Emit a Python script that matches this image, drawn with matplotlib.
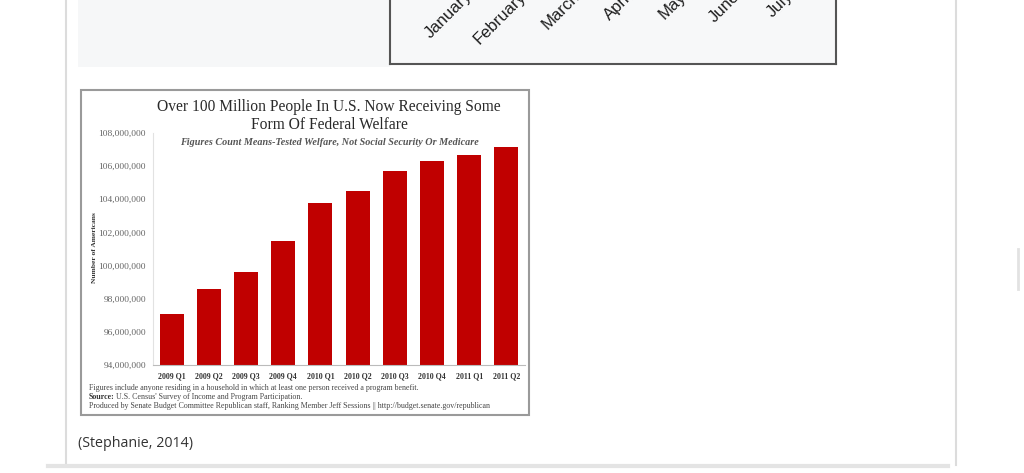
import matplotlib
matplotlib.use("Agg")
import matplotlib.pyplot as plt
from matplotlib.patches import Rectangle
from matplotlib.ticker import FuncFormatter

# chart data
quarters = ["2009 Q1", "2009 Q2", "2009 Q3", "2009 Q4", "2010 Q1",
            "2010 Q2", "2010 Q3", "2010 Q4", "2011 Q1", "2011 Q2"]
recipients = [97.1e6, 98.6e6, 99.6e6, 101.5e6, 103.75e6,
              104.5e6, 105.7e6, 106.3e6, 106.7e6, 107.15e6]
y_ticks = [94e6, 96e6, 98e6, 100e6, 102e6, 104e6, 106e6, 108e6]
months = ["January", "February", "March", "April", "May", "June", "July"]

W, H = 1024, 473
fig = plt.figure(figsize=(W / 100, H / 100), dpi=100)
fig.patch.set_facecolor("white")

# page background in pixel coords
bg = fig.add_axes([0, 0, 1, 1])
bg.set_xlim(0, W)
bg.set_ylim(H, 0)
bg.axis("off")
bg.add_patch(Rectangle((78, -5), 312, 72, facecolor="#f6f7f8", edgecolor="none"))
bg.plot([66, 66], [0, 465], color="#dcdcdc", lw=1.5)
bg.plot([956, 956], [0, 465], color="#dcdcdc", lw=1.5)
bg.plot([48, 948], [466, 466], color="#e4e4e4", lw=3)
bg.plot([1018, 1018], [249, 289], color="#e2e2e2", lw=2)
bg.text(78, 443, "(Stephanie, 2014)", fontsize=10.3, family="Open Sans",
        color="#333333", va="center", ha="left")

# chart image frame
bg.add_patch(Rectangle((81, 90), 448, 325, facecolor="white",
                       edgecolor="#9a9a9a", lw=1.5))
serif = "Liberation Serif"
bg.text(329, 107, "Over 100 Million People In U.S. Now Receiving Some",
        family=serif, fontsize=11.2, color="#2a2a2a", ha="center", va="center")
bg.text(329, 125, "Form Of Federal Welfare", family=serif, fontsize=11.2,
        color="#2a2a2a", ha="center", va="center")
bg.text(329, 142, "Figures Count Means-Tested Welfare, Not Social Security Or Medicare",
        family=serif, fontsize=7.3, style="italic", weight="bold",
        color="#555555", ha="center", va="center", zorder=5)
foot = 5.65
bg.text(89, 388, "Figures include anyone residing in a household in which at least one person received a program benefit.",
        family=serif, fontsize=foot, color="#444444", ha="left", va="center")
bg.text(89, 397, "Source:", family=serif, fontsize=foot, weight="bold",
        color="#333333", ha="left", va="center")
bg.text(116, 397, "U.S. Census' Survey of Income and Program Participation.",
        family=serif, fontsize=foot, color="#444444", ha="left", va="center")
bg.text(89, 406, "Produced by Senate Budget Committee Republican staff, Ranking Member Jeff Sessions || http://budget.senate.gov/republican",
        family=serif, fontsize=foot, color="#444444", ha="left", va="center")

# top box with month labels (cut by the top edge)
box = fig.add_axes([390 / W, 1 - 64 / H, 446 / W, 0.2])
box.set_facecolor("#f7f8f9")
box.set_xlim(-1.5, 6.85)
box.set_ylim(0, 1)
box.set_xticks([])
box.set_yticks([])
for s in box.spines.values():
    s.set_color("#555555")
    s.set_linewidth(1.5)
for i, m in enumerate(months):
    box.text(i, 0.74, m, rotation=45, rotation_mode="anchor", ha="right",
             va="center", fontsize=12, family="Liberation Sans",
             color="#1e1e1e")

# the bar chart
ax = fig.add_axes([153 / W, 1 - 365 / H, 372 / W, 232 / H])
ax.patch.set_alpha(0)
ax.bar(range(len(quarters)), recipients, width=0.65, color="#c00000")
ax.set_xlim(-0.5, len(quarters) - 0.5)
ax.set_ylim(94e6, 108e6)
ax.set_yticks(y_ticks)
ax.yaxis.set_major_formatter(FuncFormatter(lambda v, p: f"{int(v):,}"))
ax.set_xticks(range(len(quarters)))
ax.set_xticklabels(quarters)
ax.tick_params(axis="x", length=0, pad=5, labelsize=5.7, labelcolor="#333333")
ax.tick_params(axis="y", length=0, pad=5, labelsize=6.8, labelcolor="#666666")
for lab in ax.get_xticklabels():
    lab.set_family(serif)
    lab.set_weight("bold")
for lab in ax.get_yticklabels():
    lab.set_family(serif)
for s in ["top", "right"]:
    ax.spines[s].set_visible(False)
ax.spines["bottom"].set_color("#bbbbbb")
ax.spines["left"].set_color("#e2e2e2")
ax.set_ylabel("Number of Americans", family=serif, fontsize=5.4,
              weight="bold", color="#333333")
ax.yaxis.set_label_coords(-0.15, 0.504)

fig.savefig("out.png", dpi=100)
